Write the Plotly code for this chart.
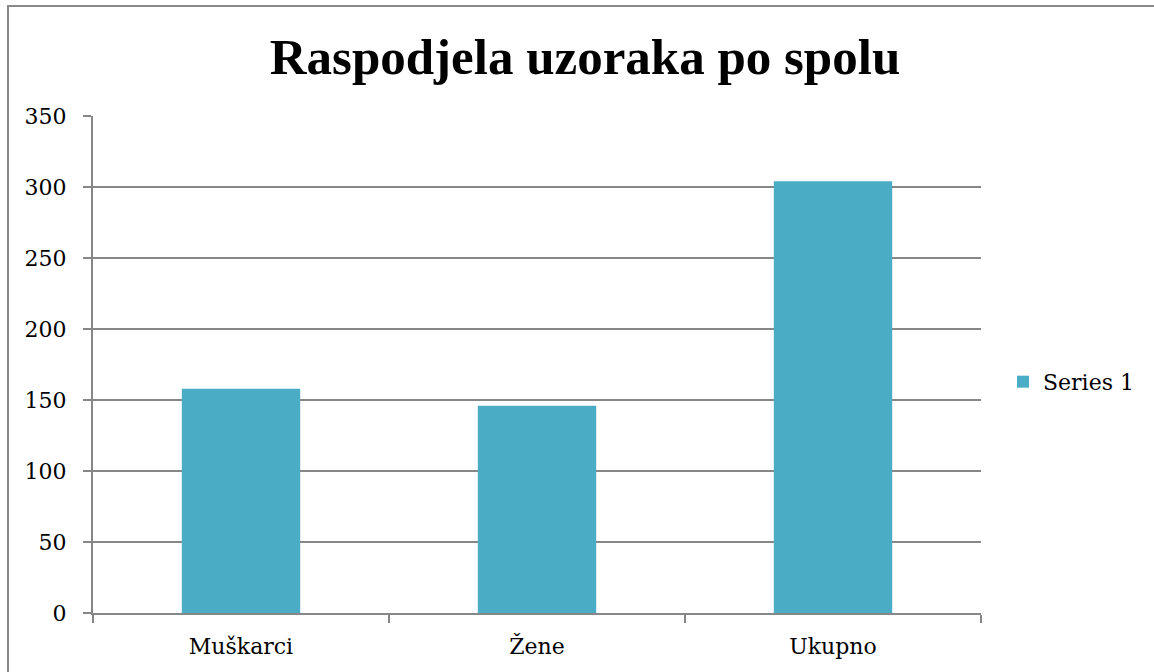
import plotly.graph_objects as go

categories = ["Muškarci", "Žene", "Ukupno"]
values = [158, 146, 304]
series_name = "Series 1"
y_ticks = [0, 50, 100, 150, 200, 250, 300, 350]
title_text = "Raspodjela uzoraka po spolu"

W, H = 1154, 672
L, R, T, B = 93, 173, 116, 59
pw = W - L - R
ph = H - T - B

fig = go.Figure()
fig.add_trace(go.Bar(
    x=categories, y=values, name=series_name,
    marker=dict(color="#4BACC6", line=dict(width=0)),
    showlegend=True,
))

grid = "#878787"
tick_font = dict(family="DejaVu Serif", size=22, color="black")
fig.update_layout(
    width=W, height=H,
    margin=dict(l=L, r=R, t=T, b=B, pad=0),
    paper_bgcolor="white", plot_bgcolor="white",
    bargap=0.6,
    title=dict(text="<b>" + title_text + "</b>", x=585 / W, xanchor="center",
               y=1 - 56 / H, yanchor="middle",
               font=dict(family="Liberation Serif", size=51, color="black")),
    font=tick_font,
    showlegend=True,
    legend=dict(x=(1003 - L) / pw, y=0.465, xanchor="left", yanchor="middle",
                font=tick_font, itemwidth=30, bgcolor="rgba(0,0,0,0)"),
    xaxis=dict(showline=True, linecolor=grid, linewidth=2, ticks="outside",
               tickson="boundaries", ticklen=8, tickwidth=2, tickcolor=grid,
               showgrid=False, tickfont=tick_font, ticklabelstandoff=13),
    yaxis=dict(range=[0, 350], tickvals=y_ticks, showline=True, linecolor=grid,
               linewidth=2, ticks="outside", ticklen=8, tickwidth=2, tickcolor=grid,
               showgrid=True, gridcolor=grid, gridwidth=2, zeroline=False,
               tickfont=tick_font, ticklabelstandoff=12),
    shapes=[dict(type="rect", xref="paper", yref="paper",
                 x0=(8 - L) / pw, x1=(1170 - L) / pw,
                 y0=-0.3, y1=(H - B - 6) / ph,
                 line=dict(color="#898989", width=2), fillcolor="rgba(0,0,0,0)",
                 layer="below")],
)

fig.write_html("out.html", config={"displayModeBar": False},
               post_script="document.body.style.margin='0';document.body.style.overflow='hidden';")
